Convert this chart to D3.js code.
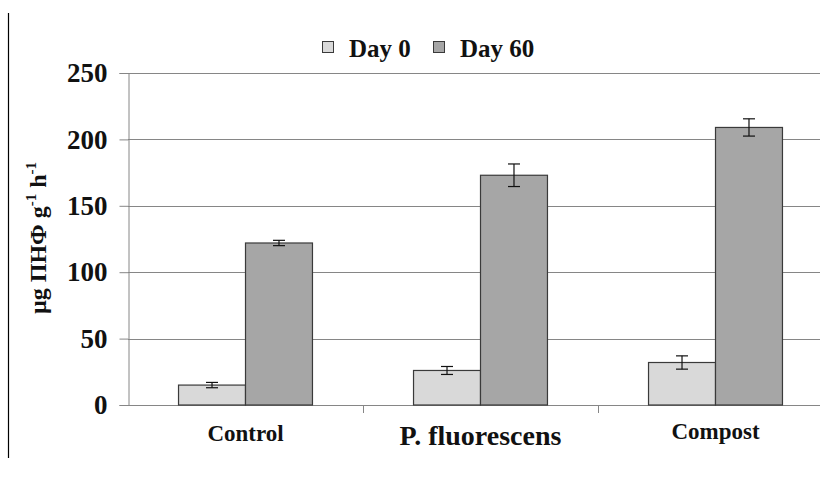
<!DOCTYPE html>
<html>
<head>
<meta charset="utf-8">
<script src="https://cdn.jsdelivr.net/npm/d3@7"></script>
<style>
  html, body { margin: 0; padding: 0; background: #fff; }
  svg { display: block; }
  text { font-family: "Liberation Serif", "Times New Roman", serif; font-weight: bold; fill: #111; }
</style>
</head>
<body>
<script>
// Treatments and series
const categories = ["Control", "P. fluorescens", "Compost"];
const seriesNames = ["Day 0", "Day 60"];
const day0Values = [15, 26, 32];
const day0Errors = [2, 3, 5];
const day60Values = [122, 173, 209];
const day60Errors = [2, 8.5, 6.5];
const yTicks = [0, 50, 100, 150, 200, 250];
const seriesColors = ["#d9d9d9", "#a6a6a6"];

const W = 820, H = 479;
const plotLeft = 128, plotRight = 833, plotTop = 73, plotBottom = 405;

const svg = d3.select("body").append("svg").attr("width", W).attr("height", H);

// frame line on the left edge
svg.append("line").attr("x1", 8.5).attr("x2", 8.5).attr("y1", 13).attr("y2", 458)
  .attr("stroke", "#000").attr("stroke-width", 1.2);

const y = d3.scaleLinear().domain([0, 250]).range([plotBottom, plotTop]);
const x0 = d3.scaleBand().domain(categories).range([plotLeft, plotRight])
  .paddingInner(0.43).paddingOuter(0.215);
const x1 = d3.scaleBand().domain(seriesNames).range([0, x0.bandwidth()]);

// horizontal gridlines
svg.append("g").selectAll("line").data(yTicks.filter(d => d > 0)).join("line")
  .attr("x1", plotLeft).attr("x2", plotRight)
  .attr("y1", d => Math.round(y(d)) + 0.5).attr("y2", d => Math.round(y(d)) + 0.5)
  .attr("stroke", "#868686").attr("stroke-width", 1);

// y axis
const yAxis = svg.append("g").attr("transform", `translate(${plotLeft + 0.5},0)`)
  .call(d3.axisLeft(y).tickValues(yTicks).tickSize(9).tickPadding(12));
yAxis.select(".domain").attr("stroke", "#868686");
yAxis.selectAll(".tick line").attr("stroke", "#868686");
yAxis.selectAll(".tick text").attr("font-size", 27).attr("fill", "#111")
  .attr("font-family", "Liberation Serif, Times New Roman, serif").attr("font-weight", "bold");

// x baseline with category separators
svg.append("line").attr("x1", plotLeft).attr("x2", plotRight)
  .attr("y1", plotBottom + 0.5).attr("y2", plotBottom + 0.5).attr("stroke", "#868686");
svg.append("g").selectAll("line").data(categories.slice(1)).join("line")
  .attr("x1", d => Math.round(x0(d) - x0.step() * 0.215) + 0.5)
  .attr("x2", d => Math.round(x0(d) - x0.step() * 0.215) + 0.5)
  .attr("y1", plotBottom).attr("y2", plotBottom + 8).attr("stroke", "#868686");

// bars
const rows = categories.map((c, i) => ({
  cat: c,
  items: [
    { s: seriesNames[0], v: day0Values[i], e: day0Errors[i], color: seriesColors[0] },
    { s: seriesNames[1], v: day60Values[i], e: day60Errors[i], color: seriesColors[1] }
  ]
}));

const groups = svg.append("g").selectAll("g").data(rows).join("g")
  .attr("transform", d => `translate(${x0(d.cat)},0)`);

groups.selectAll("rect").data(d => d.items).join("rect")
  .attr("x", d => x1(d.s))
  .attr("y", d => y(d.v))
  .attr("width", x1.bandwidth())
  .attr("height", d => y(0) - y(d.v))
  .attr("fill", d => d.color)
  .attr("stroke", "#3a3a3a").attr("stroke-width", 1.2);

// error bars
const eb = groups.selectAll("g.err").data(d => d.items).join("g").attr("class", "err");
eb.append("line")
  .attr("x1", d => x1(d.s) + x1.bandwidth() / 2).attr("x2", d => x1(d.s) + x1.bandwidth() / 2)
  .attr("y1", d => y(d.v + d.e)).attr("y2", d => y(d.v - d.e))
  .attr("stroke", "#111").attr("stroke-width", 1.2);
eb.selectAll("line.cap").data(d => [d.v + d.e, d.v - d.e].map(v => ({ v, d }))).join("line")
  .attr("class", "cap")
  .attr("x1", p => x1(p.d.s) + x1.bandwidth() / 2 - 6).attr("x2", p => x1(p.d.s) + x1.bandwidth() / 2 + 6)
  .attr("y1", p => y(p.v)).attr("y2", p => y(p.v))
  .attr("stroke", "#111").attr("stroke-width", 1.2);

// category labels
const labelSizes = [23, 28, 23];
const labelBaselines = [441, 445, 439];
svg.append("g").selectAll("text").data(categories).join("text")
  .attr("x", d => x0(d) + x0.bandwidth() / 2)
  .attr("y", (d, i) => labelBaselines[i])
  .attr("text-anchor", "middle")
  .attr("font-size", (d, i) => labelSizes[i])
  .text(d => d);

// y axis title
const yt = svg.append("text")
  .attr("transform", "translate(46,238) rotate(-90)")
  .attr("text-anchor", "middle").attr("font-size", 24);
yt.append("tspan").text("µg ПНФ g");
yt.append("tspan").attr("dy", -10).attr("font-size", 15).text("-1");
yt.append("tspan").attr("dy", 10).text(" h");
yt.append("tspan").attr("dy", -10).attr("font-size", 15).text("-1");

// legend
const legendX = [322, 433];
const lg = svg.append("g").selectAll("g").data(seriesNames).join("g")
  .attr("transform", (d, i) => `translate(${legendX[i]},41)`);
lg.append("rect").attr("x", 0.5).attr("y", 0.5).attr("width", 11).attr("height", 11)
  .attr("fill", (d, i) => seriesColors[i]).attr("stroke", "#3a3a3a").attr("stroke-width", 1);
lg.append("text").attr("x", 27).attr("y", 16).attr("font-size", 25).text(d => d);
</script>
</body>
</html>
